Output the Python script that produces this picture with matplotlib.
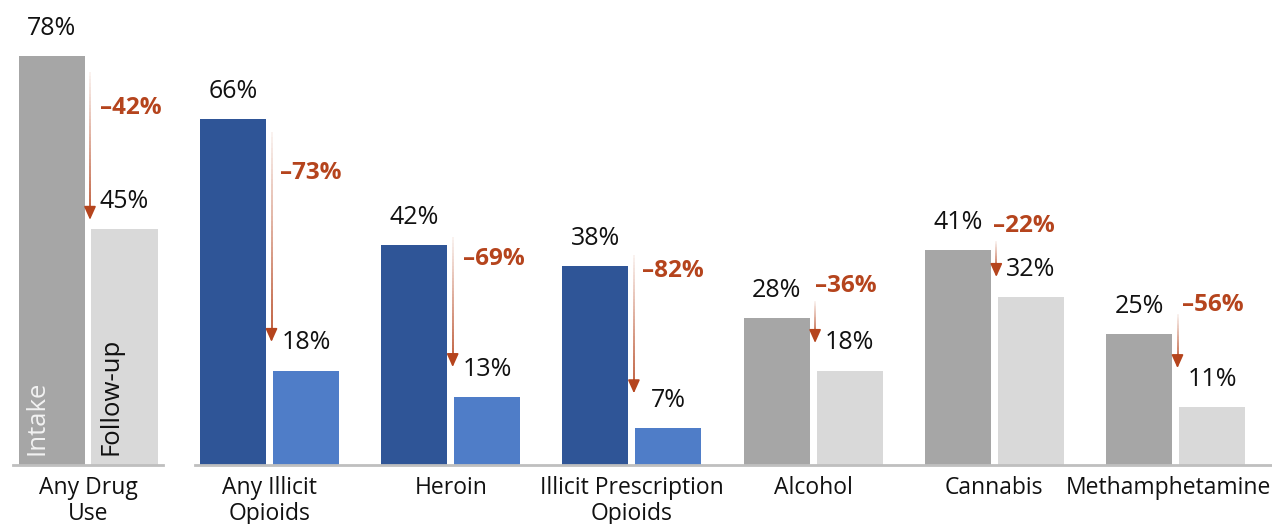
import matplotlib.pyplot as plt
import numpy as np
from matplotlib.collections import LineCollection
from matplotlib.colors import to_rgba

plt.rcParams['font.family'] = ['Open Sans', 'DejaVu Sans']

# values in percent
categories = ["Any Drug\nUse", "Any Illicit\nOpioids", "Heroin", "Illicit Prescription\nOpioids",
              "Alcohol", "Cannabis", "Methamphetamine"]
intake = [78, 66, 42, 38, 28, 41, 25]
follow_up = [45, 18, 13, 7, 18, 32, 11]
change = [-42, -73, -69, -82, -36, -22, -56]

# arrow / change label placement, in percent units (y) and group units (x)
arrow_top = [75.0, 63.5, 43.5, 40.1, 31.3, 42.7, 28.8]
arrow_tip = [46.8, 23.5, 18.7, 13.7, 23.3, 35.9, 18.5]
change_y = [68.1, 55.7, 39.3, 37.0, 34.2, 45.6, 30.5]
change_dx = [0.066, 0.058, 0.069, 0.055, 0.011, -0.008, 0.036]
label_dx = [0, 0, 0, 0, 0, 0, -7]   # pixels

grey_dark = "#A6A6A6"
grey_light = "#D9D9D9"
blue_dark = "#2F5597"
blue_light = "#4F7DC8"
red = "#B5441D"
base_col = "#BFBFBF"

W, H = 1272, 524
px = 181.2          # pixels per group
ypx = 5.24          # pixels per percent
bw = 66 / px
off = 36.5 / px

fig = plt.figure(figsize=(W / 100, H / 100), dpi=100)
ax_l = fig.add_axes([13 / W, 59 / H, 150 / W, 465 / H])
ax_r = fig.add_axes([195 / W, 59 / H, 1077 / W, 465 / H])
ax_l.set_xlim(-75 / px, 75 / px)
ax_r.set_xlim(-74.5 / px, (1077 - 74.5) / px)

for ax in (ax_l, ax_r):
    ax.set_ylim(0, 465 / ypx)
    for s in ("top", "right", "left"):
        ax.spines[s].set_visible(False)
    ax.spines["bottom"].set_color(base_col)
    ax.spines["bottom"].set_linewidth(2)
    ax.set_yticks([])
    ax.set_xticks([])
    ax.patch.set_alpha(0)


def draw_group(ax, x, i, c_in, c_fu):
    ax.bar(x - off, intake[i], bw, color=c_in, zorder=2)
    ax.bar(x + off, follow_up[i], bw, color=c_fu, zorder=2)
    for xx, v in ((x - off, intake[i]), (x + off, follow_up[i])):
        ax.annotate(f"{v}%", (xx, v), xytext=(0, 20), textcoords="offset points",
                    ha="center", va="center", fontsize=18, color="#111111")
    # fading arrow shaft
    ax_x = x + 2 / px
    ys = np.linspace(arrow_top[i], arrow_tip[i] + 1.2, 40)
    segs = [[(ax_x, ys[k]), (ax_x, ys[k + 1])] for k in range(len(ys) - 1)]
    cols = [to_rgba(red, a) for a in np.linspace(0.08, 1, len(segs))]
    ax.add_collection(LineCollection(segs, colors=cols, linewidths=1.2, zorder=3))
    ax.annotate("", xy=(ax_x, arrow_tip[i]), xytext=(ax_x, arrow_tip[i] + 2.5),
                arrowprops=dict(arrowstyle="-|>,head_length=0.8,head_width=0.36",
                                color=red, lw=1.2, shrinkA=0, shrinkB=0), zorder=3)
    ax.text(x + change_dx[i], change_y[i], f"\u2013{abs(change[i])}%", ha="left", va="center",
            fontsize=17.5, fontweight="bold", color=red)
    ax.annotate(categories[i], (x, 0), xytext=(label_dx[i] * 0.72, -8), textcoords="offset points",
                ha="center", va="top", fontsize=16.5, color="#111111",
                linespacing=1.12, annotation_clip=False)


draw_group(ax_l, 0, 0, grey_dark, grey_light)
ax_l.annotate("Intake", (-off - 14 / px, 0), xytext=(0, 7), textcoords="offset points",
              rotation=90, ha="center", va="bottom", fontsize=18.5, color="#F2F2F2")
ax_l.annotate("Follow-up", (off - 13 / px, 0), xytext=(0, 7), textcoords="offset points",
              rotation=90, ha="center", va="bottom", fontsize=18.5, color="#111111")

for j in range(1, len(categories)):
    if j <= 3:
        draw_group(ax_r, j - 1, j, blue_dark, blue_light)
    else:
        draw_group(ax_r, j - 1, j, grey_dark, grey_light)

fig.savefig("out.png", dpi=100)
